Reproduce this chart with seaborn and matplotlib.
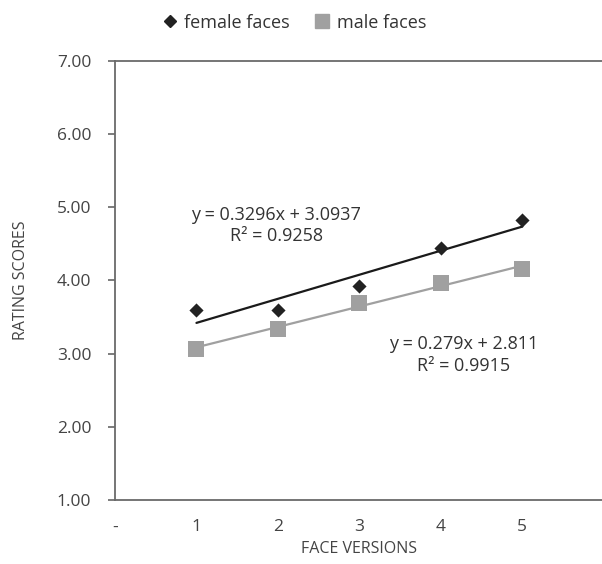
import matplotlib

matplotlib.use("Agg")
import matplotlib.pyplot as plt
from matplotlib.lines import Line2D
import pandas as pd
import seaborn as sns

versions = [1, 2, 3, 4, 5]
female_scores = [3.60, 3.60, 3.92, 4.45, 4.82]
male_scores = [3.07, 3.34, 3.69, 3.97, 4.15]
y_ticks = [1, 2, 3, 4, 5, 6, 7]
x_tick_labels = ["-", "1", "2", "3", "4", "5"]

female_eq = "y = 0.3296x + 3.0937\nR² = 0.9258"
male_eq = "y = 0.279x + 2.811\nR² = 0.9915"

FEMALE_COLOR = "#222222"
MALE_COLOR = "#a0a0a0"
TEXT_COLOR = "#444444"

df = pd.DataFrame({"version": versions, "female": female_scores, "male": male_scores})

sns.set_theme(style="white")
plt.rcParams["font.family"] = ["Open Sans", "DejaVu Sans"]

fig = plt.figure(figsize=(6.02, 5.64), dpi=100)
ax = fig.add_axes([0.191, 0.1135, 0.812, 0.7785])

sns.regplot(data=df, x="version", y="female", ci=None, ax=ax, marker="D",
            scatter_kws=dict(s=52, color=FEMALE_COLOR, alpha=1, zorder=3, linewidths=0),
            line_kws=dict(color="#1a1a1a", lw=1.6))
sns.regplot(data=df, x="version", y="male", ci=None, ax=ax, marker="s",
            scatter_kws=dict(s=130, color=MALE_COLOR, alpha=1, zorder=3, linewidths=0),
            line_kws=dict(color=MALE_COLOR, lw=1.6))

ax.set_xlim(0, 6)
ax.set_ylim(1, 7)
ax.set_yticks(y_ticks)
ax.set_yticklabels([f"{v:.2f}" for v in y_ticks])
ax.set_xticks(range(len(x_tick_labels)))
ax.set_xticklabels(x_tick_labels)
ax.tick_params(axis="y", which="both", left=True, length=5, width=1.2,
               color="#666666", labelsize=12.5, labelcolor=TEXT_COLOR, pad=12)
ax.tick_params(axis="x", bottom=False, labelsize=12.5, labelcolor=TEXT_COLOR, pad=8)

for side in ["left", "bottom", "top", "right"]:
    ax.spines[side].set_color("#6a6a6a")
    ax.spines[side].set_linewidth(1.3)

ax.set_xlabel("FACE VERSIONS", fontsize=11.5, color=TEXT_COLOR, labelpad=4)
ax.set_ylabel("RATING SCORES", fontsize=11.5, color=TEXT_COLOR, labelpad=20)

ax.text(1.98, 4.75, female_eq, ha="center", va="center", fontsize=13,
        color="#333333", linespacing=1.25)
ax.text(4.28, 2.98, male_eq, ha="center", va="center", fontsize=13,
        color="#333333", linespacing=1.25)

handles = [
    Line2D([], [], marker="D", ls="", color=FEMALE_COLOR, markersize=6),
    Line2D([], [], marker="s", ls="", color=MALE_COLOR, markersize=10),
]
fig.legend(handles, ["female faces", "male faces"], loc="center",
           bbox_to_anchor=(0.48, 0.96), ncol=2, frameon=False, fontsize=13,
           handletextpad=-0.2, columnspacing=0.8, labelcolor="#333333")

fig.savefig("out.png", dpi=100)
